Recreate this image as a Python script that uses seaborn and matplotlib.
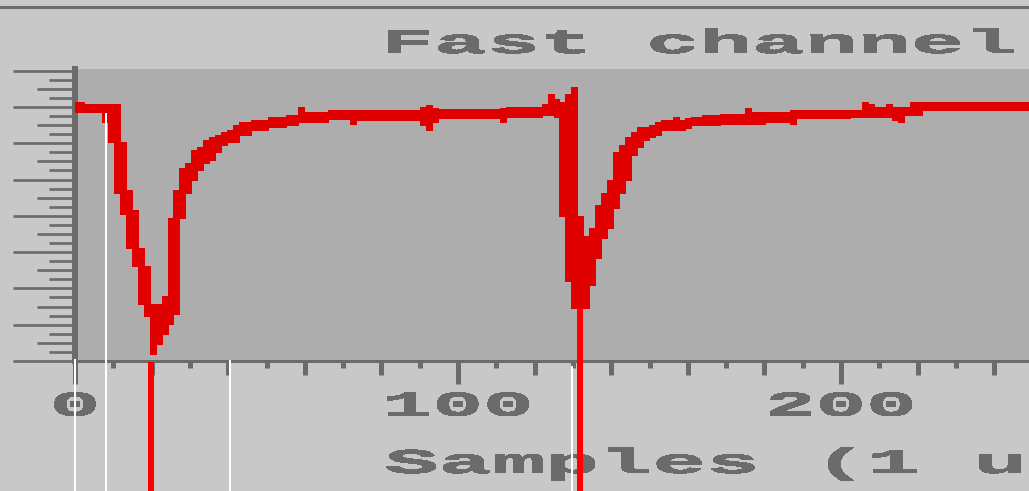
import numpy as np
import pandas as pd
import matplotlib
matplotlib.use("Agg")
import matplotlib.pyplot as plt
import seaborn as sns
from matplotlib.patheffects import AbstractPathEffect
from matplotlib.transforms import Affine2D
from matplotlib.ticker import FixedLocator, FixedFormatter
from matplotlib.lines import Line2D

# ---- trace: peak-detect envelope, one entry per display column ----
edge_samples = [0.0, 2.4, 7.0, 8.6, 10.2, 11.8, 13.3, 14.9, 16.4, 18.0,
                19.6, 21.2, 22.7, 24.3, 25.6, 27.2, 28.7, 30.3, 31.9, 33.4,
                35.0, 36.6, 38.1, 39.7, 41.3, 42.8, 46.0, 50.4, 55.1, 58.2,
                59.8, 66.1, 71.8, 73.4, 90.1, 91.6, 93.2, 94.8, 111.0, 112.5,
                121.9, 123.5, 125.1, 126.4, 127.9, 129.5, 131.1, 132.6, 134.2, 135.8,
                137.3, 138.9, 140.5, 142.0, 143.6, 145.2, 146.7, 148.3, 149.9, 151.4,
                153.0, 156.1, 157.7, 159.3, 160.8, 163.7, 168.4, 174.9, 176.5, 180.2,
                186.7, 188.3, 202.4, 205.5, 207.1, 208.6, 211.8, 213.3, 214.9, 216.5,
                218.0, 221.2]
trace_high = [356.7, 354.0, 354.0, 354.0, 354.0, 301.7, 235.5, 208.0, 155.6, 130.9,
              78.5, 78.5, 89.5, 197.0, 235.5, 265.8, 272.7, 290.6, 294.8, 304.4,
              308.5, 311.3, 315.4, 318.2, 325.1, 329.2, 332.0, 336.1, 338.8, 349.9,
              343.0, 345.7, 345.7, 345.7, 349.9, 352.6, 348.5, 347.1, 348.5, 349.9,
              354.0, 367.8, 360.9, 356.7, 367.8, 377.4, 199.7, 172.2, 183.2, 214.9,
              231.4, 249.3, 287.9, 297.5, 308.5, 315.4, 322.3, 322.3, 325.1, 329.2,
              332.0, 336.1, 332.0, 334.7, 336.1, 338.8, 340.2, 348.5, 343.0, 343.0,
              345.7, 345.7, 345.7, 356.7, 354.0, 349.9, 354.0, 349.9, 349.9, 349.9,
              356.7, 356.7]
trace_low = [343.0, 343.0, 329.2, 301.7, 231.4, 202.5, 155.6, 130.9, 78.5, 62.0,
             9.6, 23.4, 37.2, 51.0, 64.7, 197.0, 231.4, 249.3, 263.1, 272.7,
             276.9, 287.9, 297.5, 301.7, 301.7, 311.3, 318.2, 322.3, 325.1, 329.2,
             329.2, 333.3, 326.4, 332.0, 325.1, 318.2, 329.2, 334.7, 329.2, 336.1,
             338.8, 338.8, 336.1, 199.7, 110.2, 73.0, 73.0, 73.0, 104.7, 141.9,
             169.4, 183.2, 210.7, 231.4, 249.3, 283.8, 294.8, 304.4, 308.5, 311.3,
             318.2, 318.2, 318.2, 320.9, 325.1, 325.1, 326.4, 326.4, 326.4, 329.2,
             326.4, 334.7, 336.1, 336.1, 336.1, 336.1, 336.1, 332.0, 329.2, 338.8,
             338.8, 345.7]

# ---- cursors ----
white_cursor_samples = [0.0, 8.1, 40.5, 129.8]
white_cursor_tops = [3.0, 341.6, 1.0, -7.0]
red_cursor_samples = [19.8, 131.9]
red_cursor_tops = [-1.0, 73.0]

# ---- axis ticks ----
x_major_ticks = [0, 100, 200]
x_tick_labels = ["0", "100", "200"]
x_mid_ticks = [20, 40, 60, 80, 120, 140, 160, 180, 220, 240]
x_short_ticks = [10, 30, 50, 70, 90, 110, 130, 150, 170, 190, 210, 230]
y_major_ticks = [0, 50, 100, 150, 200, 250, 300, 350, 400]
y_mid_ticks = [25, 75, 125, 175, 225, 275, 325, 375]
y_short_ticks = [12.5, 37.5, 62.5, 87.5, 112.5, 137.5, 162.5, 187.5,
                 212.5, 237.5, 262.5, 287.5, 312.5, 337.5, 362.5, 387.5]

title_text = "Fast channel"
xlabel_text = "Samples (1 us)"

INK = "#6b6b6b"
PANEL = "#c8c8c8"
PLOT_BG = "#adadad"
TRACE = "#e00000"
CURSOR_RED = "#ff0000"

sns.set_theme(style="ticks")
plt.rcParams.update({
    "font.family": ["Liberation Mono", "DejaVu Sans Mono"],
    "font.weight": "bold",
    "text.antialiased": False,
    "lines.antialiased": False,
    "patch.antialiased": False,
    "xtick.direction": "out",
    "ytick.direction": "out",
})


class WideGlyphs(AbstractPathEffect):
    """Draw text glyphs stretched horizontally by a fixed factor."""

    def __init__(self, factor, anchor="left"):
        super().__init__()
        self.factor = factor
        self.anchor = anchor

    def draw_path(self, renderer, gc, tpath, affine, rgbFace=None):
        if self.anchor == "center":
            ext = tpath.get_extents()
            cx = 0.5 * (ext.x0 + ext.x1)
        else:
            cx = 0.0
        stretch = Affine2D().translate(-cx, 0).scale(self.factor, 1.0).translate(cx, 0)
        renderer.draw_path(gc, tpath, stretch + affine, rgbFace)


W, H, DPI = 1029, 491, 100
fig = plt.figure(figsize=(W / DPI, H / DPI), dpi=DPI, facecolor=PANEL)

left_px, right_px, top_px, bottom_px = 75, 1029, 69, 361
ax = fig.add_axes([left_px / W, (H - bottom_px) / H,
                   (right_px - left_px) / W, (bottom_px - top_px) / H])
ax.set_facecolor(PLOT_BG)

px_per_sample = 3.83
px_per_unit = 36.3 / 50.0
ax.set_xlim(0, (right_px - left_px) / px_per_sample)
ax.set_ylim(0, (bottom_px - top_px) / px_per_unit)

# envelope of the trace
x_end = ax.get_xlim()[1]
xs = np.append(edge_samples, x_end)
lo = np.append(trace_low, trace_low[-1])
hi = np.append(trace_high, trace_high[-1])
ax.fill_between(xs, lo, hi, step="post", color=TRACE, lw=0,
                antialiased=False, zorder=3)
edges = pd.DataFrame({
    "sample": np.concatenate([xs, xs]),
    "value": np.concatenate([lo, hi]),
    "edge": ["low"] * len(xs) + ["high"] * len(xs),
})
sns.lineplot(data=edges, x="sample", y="value", units="edge", estimator=None,
             drawstyle="steps-post", color=TRACE, lw=0.5, legend=False,
             ax=ax, zorder=3)
ax.set_xlabel("")
ax.set_ylabel("")

# cursor lines reaching below the plot area
below = -(H - bottom_px) * 1.2 / px_per_unit
ax.vlines(white_cursor_samples, below, white_cursor_tops, colors="white",
          linewidths=1.1, clip_on=False, zorder=6)
ax.vlines(red_cursor_samples, below, red_cursor_tops, colors=CURSOR_RED,
          linewidths=4.3, clip_on=False, zorder=6)

# spines
for side in ("top", "right"):
    ax.spines[side].set_visible(False)
ax.spines["left"].set_color(INK)
ax.spines["left"].set_linewidth(4.3)
ax.spines["bottom"].set_color(INK)
ax.spines["bottom"].set_linewidth(2.0)

# x ticks: long / medium / short
ax.xaxis.set_major_locator(FixedLocator(x_major_ticks))
ax.xaxis.set_major_formatter(FixedFormatter(x_tick_labels))
ax.xaxis.set_minor_locator(FixedLocator(x_short_ticks))
ax.tick_params(axis="x", which="major", bottom=True, length=16.6, width=3.6,
               color=INK, pad=4, labelsize=25, labelcolor=INK)
ax.tick_params(axis="x", which="minor", bottom=True, length=5, width=3.6, color=INK)
sec_x = ax.secondary_xaxis("bottom")
sec_x.xaxis.set_major_locator(FixedLocator(x_mid_ticks))
sec_x.tick_params(axis="x", which="both", length=10.1, width=3.6, color=INK,
                  labelbottom=False)
sec_x.xaxis.set_minor_locator(FixedLocator([]))
sec_x.spines["bottom"].set_visible(False)

# y ticks: long / medium / short (the value labels sit off the left edge)
ax.yaxis.set_major_locator(FixedLocator(y_major_ticks))
ax.yaxis.set_minor_locator(FixedLocator(y_short_ticks))
ax.tick_params(axis="y", which="major", left=True, length=44.6, width=1.95,
               color=INK, labelleft=False)
ax.tick_params(axis="y", which="minor", left=True, length=18.7, width=1.95, color=INK)
sec_y = ax.secondary_yaxis("left")
sec_y.yaxis.set_major_locator(FixedLocator(y_mid_ticks))
sec_y.yaxis.set_minor_locator(FixedLocator([]))
sec_y.tick_params(axis="y", which="both", length=27.4, width=1.95, color=INK,
                  labelleft=False)
sec_y.spines["left"].set_visible(False)

# wide bitmap-style lettering
adv_em = 0.6
def stretch_for(pitch_px, size_pt):
    return pitch_px / (adv_em * size_pt * DPI / 72.0)

title_size, label_size, tick_size = 24.7, 25.0, 25.0
axes_w, axes_h = right_px - left_px, bottom_px - top_px

ax.set_title(title_text, loc="left", x=(381 - left_px) / axes_w,
             y=(bottom_px - 53) / axes_h, pad=0, fontsize=title_size,
             fontweight="bold", color=INK, va="baseline",
             path_effects=[WideGlyphs(stretch_for(53, title_size), "left")])

ax.set_xlabel(xlabel_text, fontsize=label_size, fontweight="bold", color=INK,
              ha="left", va="baseline",
              path_effects=[WideGlyphs(stretch_for(53.5, label_size), "left")])
ax.xaxis.set_label_coords((385 - left_px) / axes_w, (bottom_px - 473) / axes_h)

for lbl in ax.get_xticklabels():
    lbl.set_fontweight("bold")
    lbl.set_path_effects([WideGlyphs(stretch_for(50.5, tick_size), "center")])

# frame rule along the top of the panel
fig.add_artist(Line2D([0, 1], [(H - 7.3) / H] * 2, transform=fig.transFigure,
                      color=INK, lw=2.0))

fig.savefig("out.png", dpi=DPI, facecolor=PANEL)
